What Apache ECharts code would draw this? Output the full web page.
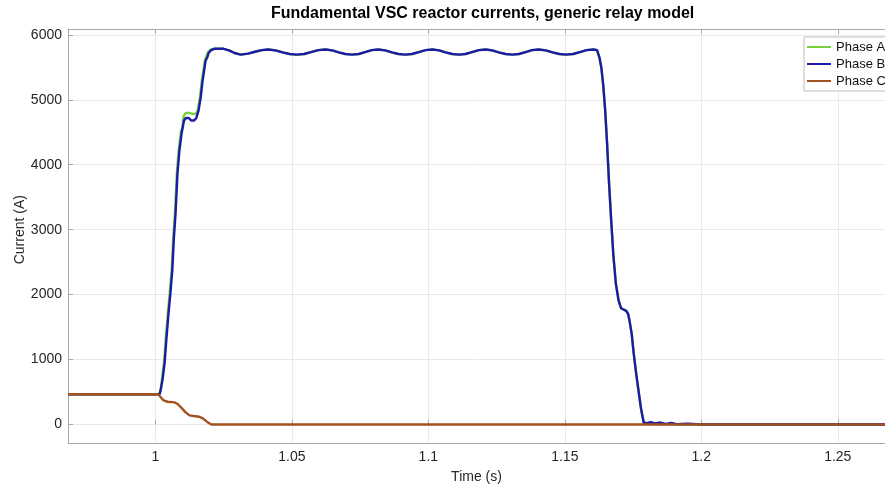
<!DOCTYPE html>
<html>
<head>
<meta charset="utf-8">
<script src="https://cdn.jsdelivr.net/npm/echarts@6/dist/echarts.min.js"></script>
<style>
  html, body { margin: 0; padding: 0; background: #fff; }
  #chart { width: 885px; height: 489px; }
</style>
</head>
<body>
<div id="chart"></div>
<script>
// axis ranges and ticks (right edge of the plot is cut by the image)
const xRange = [0.968, 1.2673];
const yRange = [-285, 6090];
const xTicks = [1, 1.05, 1.1, 1.15, 1.2, 1.25];
const yTicks = [0, 1000, 2000, 3000, 4000, 5000, 6000];

// Phase A (green) - mostly hidden under phase B
const timeA = [0.968, 1.0013, 1.0016, 1.0020, 1.0024, 1.0028, 1.0032, 1.0035, 1.0038, 1.0041, 1.0046, 1.0050,
  1.0053, 1.0056, 1.0060, 1.0064, 1.0066, 1.0070, 1.0072, 1.0076, 1.0079, 1.0083, 1.0086, 1.0091, 1.0094, 1.0099,
  1.0103, 1.0110, 1.0120, 1.0130, 1.0140, 1.0150, 1.0156, 1.0161, 1.0164, 1.0168, 1.0171, 1.0176, 1.0182, 1.0188,
  1.0194, 1.0202, 1.0215, 1.0250, 1.0270, 1.0290, 1.0312, 1.0340, 1.0365, 1.0390, 1.0414, 1.0440, 1.0466, 1.0492,
  1.0518, 1.0545, 1.0570, 1.0597, 1.0623, 1.0648, 1.0672, 1.0696, 1.0720, 1.0745, 1.0768, 1.0793, 1.0817, 1.0842,
  1.0866, 1.0891, 1.0916, 1.0940, 1.0965, 1.0990, 1.1015, 1.1040, 1.1063, 1.1088, 1.1112, 1.1136, 1.1160, 1.1185,
  1.1210, 1.1234, 1.1258, 1.1283, 1.1307, 1.1332, 1.1356, 1.1380, 1.1404, 1.1430, 1.1455, 1.1480, 1.1505, 1.1530,
  1.1555, 1.1580, 1.1605, 1.1618, 1.1624, 1.1627, 1.1631, 1.1634, 1.1638, 1.1641, 1.1645, 1.1648, 1.1652, 1.1655,
  1.1659, 1.1662, 1.1667, 1.1670, 1.1675, 1.1678, 1.1684, 1.1687, 1.1693, 1.1697, 1.1702, 1.1706, 1.1712, 1.1725,
  1.1732, 1.1737, 1.1741, 1.1745, 1.1749, 1.1752, 1.1757, 1.1761, 1.1766, 1.1770, 1.1775, 1.1779, 1.1784, 1.1789,
  1.1800, 1.2000, 1.2673];
const phaseA = [465, 465, 500, 540, 700, 720, 970, 1000, 1320, 1350, 1730, 1760,
  2040, 2070, 2400, 2430, 2900, 2930, 3270, 3300, 3890, 3920, 4240, 4270, 4520, 4560,
  4740, 4790, 4800, 4790, 4780, 4790, 4850, 4880, 5060, 5090, 5320, 5350, 5620, 5680,
  5740, 5770, 5785, 5785, 5760, 5720, 5695, 5710, 5740, 5765, 5775, 5760, 5730, 5705,
  5695, 5705, 5735, 5765, 5775, 5760, 5730, 5705, 5695, 5705, 5735, 5765, 5775, 5760,
  5730, 5705, 5695, 5705, 5735, 5765, 5775, 5760, 5730, 5705, 5695, 5705, 5735, 5765,
  5775, 5760, 5730, 5705, 5695, 5705, 5735, 5765, 5775, 5760, 5730, 5705, 5695, 5705,
  5735, 5765, 5775, 5765, 5740, 5650, 5640, 5490, 5480, 5215, 5200, 4830, 4820, 4320,
  4300, 3720, 3700, 3140, 3120, 2600, 2580, 2170, 2150, 1910, 1880, 1790, 1770, 1750,
  1700, 1600, 1580, 1400, 1380, 1110, 1090, 800, 780, 520, 500, 250, 230, 30,
  10, 0, 0];

// Phase B (blue)
const timeB = [0.968, 1.0015, 1.0018, 1.0022, 1.0026, 1.0030, 1.0034, 1.0037, 1.0040, 1.0043, 1.0048, 1.0052,
  1.0055, 1.0058, 1.0062, 1.0066, 1.0068, 1.0072, 1.0074, 1.0078, 1.0081, 1.0085, 1.0088, 1.0093, 1.0096, 1.0101,
  1.0105, 1.0112, 1.0122, 1.0132, 1.0142, 1.0150, 1.0158, 1.0163, 1.0166, 1.0170, 1.0173, 1.0178, 1.0184, 1.0190,
  1.0195, 1.0203, 1.0215, 1.0250, 1.0270, 1.0290, 1.0312, 1.0340, 1.0365, 1.0390, 1.0414, 1.0440, 1.0466, 1.0492,
  1.0518, 1.0545, 1.0570, 1.0597, 1.0623, 1.0648, 1.0672, 1.0696, 1.0720, 1.0745, 1.0768, 1.0793, 1.0817, 1.0842,
  1.0866, 1.0891, 1.0916, 1.0940, 1.0965, 1.0990, 1.1015, 1.1040, 1.1063, 1.1088, 1.1112, 1.1136, 1.1160, 1.1185,
  1.1210, 1.1234, 1.1258, 1.1283, 1.1307, 1.1332, 1.1356, 1.1380, 1.1404, 1.1430, 1.1455, 1.1480, 1.1505, 1.1530,
  1.1555, 1.1580, 1.1605, 1.1618, 1.1624, 1.1627, 1.1631, 1.1634, 1.1638, 1.1641, 1.1645, 1.1648, 1.1652, 1.1655,
  1.1659, 1.1662, 1.1667, 1.1670, 1.1675, 1.1678, 1.1684, 1.1687, 1.1693, 1.1697, 1.1702, 1.1706, 1.1712, 1.1725,
  1.1732, 1.1737, 1.1741, 1.1745, 1.1749, 1.1752, 1.1757, 1.1761, 1.1766, 1.1770, 1.1775, 1.1779, 1.1784, 1.1789,
  1.1800, 1.1815, 1.1830, 1.1850, 1.1870, 1.1890, 1.1910, 1.1950, 1.2000, 1.2673];
const phaseB = [465, 465, 500, 520, 680, 700, 950, 980, 1290, 1310, 1700, 1720,
  2010, 2030, 2370, 2390, 2880, 2900, 3250, 3270, 3860, 3880, 4215, 4230, 4480, 4500,
  4680, 4720, 4720, 4680, 4680, 4720, 4830, 4850, 5030, 5050, 5290, 5310, 5600, 5650,
  5720, 5760, 5785, 5785, 5760, 5720, 5695, 5710, 5740, 5765, 5775, 5760, 5730, 5705,
  5695, 5705, 5735, 5765, 5775, 5760, 5730, 5705, 5695, 5705, 5735, 5765, 5775, 5760,
  5730, 5705, 5695, 5705, 5735, 5765, 5775, 5760, 5730, 5705, 5695, 5705, 5735, 5765,
  5775, 5760, 5730, 5705, 5695, 5705, 5735, 5765, 5775, 5760, 5730, 5705, 5695, 5705,
  5735, 5765, 5775, 5765, 5740, 5650, 5640, 5490, 5480, 5215, 5200, 4830, 4820, 4320,
  4300, 3720, 3700, 3140, 3120, 2600, 2580, 2170, 2150, 1910, 1880, 1790, 1770, 1750,
  1700, 1600, 1580, 1400, 1380, 1110, 1090, 800, 780, 520, 500, 250, 230, 30,
  20, 35, 15, 30, 10, 25, 5, 12, 0, 0];

// Phase C (brown)
const timeC = [0.968, 1.0010, 1.0020, 1.0030, 1.0045, 1.0070, 1.0080, 1.0095, 1.0110, 1.0125, 1.0140, 1.0160,
  1.0175, 1.0190, 1.0205, 1.2673];
const phaseC = [465, 465, 420, 370, 350, 340, 320, 260, 190, 140, 130, 120, 90, 40, 0, 0];

const seriesNames = ['Phase A', 'Phase B', 'Phase C'];
const colors = ['#77d13f', '#1b1ba6', '#a3521f'];

const zip = (t, v) => t.map((x, i) => [x, v[i]]);

// plot box in pixels (right side ends at the image edge)
const box = { left: 68, top: 29, width: 817, height: 414 };
const sx = box.width / (xRange[1] - xRange[0]);
const sy = box.height / (yRange[1] - yRange[0]);
const yT0 = yTicks[0], yT1 = yTicks[yTicks.length - 1];
const xT0 = xTicks[0], xT1 = xTicks[xTicks.length - 1];

const font = '"Liberation Sans", Arial, Helvetica, sans-serif';
const gridColor = '#e9e9e9';
const frameColor = '#a9a9a9';

const chart = echarts.init(document.getElementById('chart'));
chart.setOption({
    animation: false,
    textStyle: { fontFamily: font },
    title: {
        text: 'Fundamental VSC reactor currents, generic relay model',
        left: 271, top: 6, padding: 0,
        textStyle: { fontSize: 16, fontWeight: 'bold', color: '#000', fontFamily: font }
    },
    legend: {
        data: seriesNames,
        orient: 'vertical',
        left: 804, top: 37,
        padding: [3, 6, 3, 3],
        itemGap: 3,
        itemWidth: 24, itemHeight: 2,
        icon: 'rect',
        backgroundColor: '#fff',
        borderColor: '#bdbdbd', borderWidth: 1, borderRadius: 0,
        textStyle: { fontSize: 13, color: '#111', lineHeight: 14, fontFamily: font }
    },
    grid: [
        // data box
        { left: box.left, top: box.top, width: box.width, height: box.height },
        // y tick grid
        { left: box.left, width: box.width,
          top: box.top + (yRange[1] - yT1) * sy, height: (yT1 - yT0) * sy },
        // x tick grid
        { top: box.top, height: box.height,
          left: box.left + (xT0 - xRange[0]) * sx, width: (xT1 - xT0) * sx }
    ],
    xAxis: [
        { gridIndex: 0, type: 'value', min: xRange[0], max: xRange[1],
          axisLine: { show: true, onZero: false, lineStyle: { color: frameColor } },
          axisTick: { show: false }, axisLabel: { show: false }, splitLine: { show: false },
          name: 'Time (s)', nameLocation: 'middle', nameGap: 27, nameMoveOverlap: false,
          nameTextStyle: { fontSize: 14, color: '#262626', fontFamily: font } },
        { gridIndex: 0, type: 'value', position: 'top', min: xRange[0], max: xRange[1],
          axisLine: { show: true, onZero: false, lineStyle: { color: frameColor } },
          axisTick: { show: false }, axisLabel: { show: false }, splitLine: { show: false } },
        { gridIndex: 1, type: 'value', show: false, min: xRange[0], max: xRange[1] },
        { gridIndex: 2, type: 'value', min: xT0, max: xT1, interval: xTicks[1] - xTicks[0],
          axisLine: { show: false },
          axisTick: { show: true, inside: true, length: 5, lineStyle: { color: frameColor } },
          axisLabel: { color: '#262626', fontSize: 14, margin: 7,
                       formatter: v => String(+v.toFixed(2)) },
          splitLine: { show: true, lineStyle: { color: gridColor, width: 1 } } },
        { gridIndex: 2, type: 'value', position: 'top', min: xT0, max: xT1, interval: xTicks[1] - xTicks[0],
          axisLine: { show: false },
          axisTick: { show: true, inside: true, length: 5, lineStyle: { color: frameColor } },
          axisLabel: { show: false }, splitLine: { show: false } }
    ],
    yAxis: [
        { gridIndex: 0, type: 'value', min: yRange[0], max: yRange[1],
          axisLine: { show: true, onZero: false, lineStyle: { color: frameColor } },
          axisTick: { show: false }, axisLabel: { show: false }, splitLine: { show: false } },
        { gridIndex: 1, type: 'value', min: yT0, max: yT1, interval: yTicks[1] - yTicks[0],
          axisLine: { show: false },
          axisTick: { show: true, inside: true, length: 5, lineStyle: { color: frameColor } },
          axisLabel: { color: '#262626', fontSize: 14, margin: 6, formatter: v => String(v) },
          splitLine: { show: true, lineStyle: { color: gridColor, width: 1 } },
          name: 'Current (A)', nameLocation: 'middle', nameGap: 41, nameMoveOverlap: false,
          nameTextStyle: { fontSize: 14, color: '#262626', fontFamily: font } },
        { gridIndex: 2, type: 'value', show: false, min: yRange[0], max: yRange[1] }
    ],
    series: [
        { name: seriesNames[0], type: 'line', xAxisIndex: 0, yAxisIndex: 0,
          data: zip(timeA, phaseA), showSymbol: false, color: colors[0],
          lineStyle: { width: 2.4, color: colors[0] } },
        { name: seriesNames[1], type: 'line', xAxisIndex: 0, yAxisIndex: 0,
          data: zip(timeB, phaseB), showSymbol: false, color: colors[1],
          lineStyle: { width: 2.4, color: colors[1] } },
        { name: seriesNames[2], type: 'line', xAxisIndex: 0, yAxisIndex: 0,
          data: zip(timeC, phaseC), showSymbol: false, color: colors[2],
          lineStyle: { width: 2.4, color: colors[2] } }
    ]
});
</script>
</body>
</html>
